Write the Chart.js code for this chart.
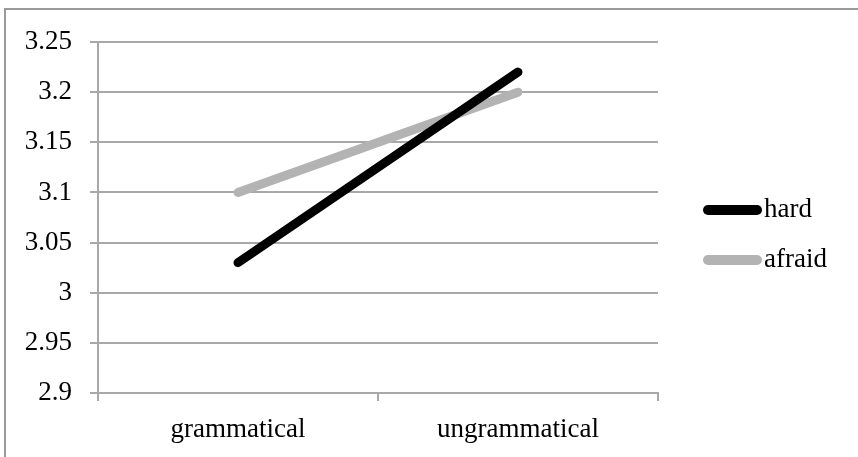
<!DOCTYPE html>
<html>
<head>
<meta charset="utf-8">
<script src="https://cdn.jsdelivr.net/npm/chart.js@4.4.1/dist/chart.umd.min.js"></script>
<style>
  html, body { margin: 0; padding: 0; background: #ffffff; }
  #wrap { width: 858px; height: 457px; position: relative; }
</style>
</head>
<body>
<div id="wrap"><canvas id="c" width="858" height="457"></canvas></div>
<script>
// Categories and series
const categories = ['grammatical', 'ungrammatical'];
const hardValues = [3.03, 3.22];
const afraidValues = [3.1, 3.2];
const seriesNames = ['hard', 'afraid'];
const yMin = 2.9, yMax = 3.25, yStep = 0.05;

const FONT = '"Liberation Serif", "Times New Roman", serif';
const FONT_SIZE = 27;
const GRID = '#a8a8a8';

// Frame around the chart and a legend drawn with line swatches
const frameAndLegend = {
  id: 'frameAndLegend',
  beforeDraw(chart) {
    const ctx = chart.ctx;
    ctx.save();
    ctx.fillStyle = '#ffffff';
    ctx.fillRect(0, 0, chart.width, chart.height);
    ctx.strokeStyle = '#9a9a9a';
    ctx.lineWidth = 2;
    ctx.beginPath();
    ctx.moveTo(5, chart.height);
    ctx.lineTo(5, 9);
    ctx.lineTo(chart.width, 9);
    ctx.stroke();
    ctx.restore();
  },
  afterDraw(chart) {
    const ctx = chart.ctx;
    ctx.save();
    const x0 = 708, x1 = 757, yTop = 210, gap = 50;
    chart.data.datasets.forEach((ds, i) => {
      const y = yTop + i * gap;
      ctx.strokeStyle = ds.borderColor;
      ctx.lineWidth = 10;
      ctx.lineCap = 'round';
      ctx.beginPath();
      ctx.moveTo(x0, y);
      ctx.lineTo(x1, y);
      ctx.stroke();
      ctx.fillStyle = '#000000';
      ctx.font = FONT_SIZE + 'px ' + FONT;
      ctx.textBaseline = 'middle';
      ctx.textAlign = 'left';
      ctx.fillText(ds.label, 764, y);
    });
    ctx.restore();
  }
};

new Chart(document.getElementById('c'), {
  type: 'line',
  data: {
    labels: categories,
    datasets: [
      {
        label: seriesNames[0],
        data: hardValues,
        borderColor: '#000000',
        backgroundColor: '#000000',
        borderWidth: 9,
        borderCapStyle: 'round',
        pointRadius: 0,
        tension: 0
      },
      {
        label: seriesNames[1],
        data: afraidValues,
        borderColor: '#b3b3b3',
        backgroundColor: '#b3b3b3',
        borderWidth: 9,
        borderCapStyle: 'round',
        pointRadius: 0,
        tension: 0
      }
    ]
  },
  options: {
    responsive: false,
    animation: false,
    layout: { padding: { left: 10, top: 42, right: 200, bottom: 0 } },
    plugins: { legend: { display: false }, tooltip: { enabled: false } },
    scales: {
      x: {
        type: 'category',
        offset: true,
        grid: { offset: true, drawOnChartArea: false, drawTicks: true, tickLength: 8, color: GRID, lineWidth: 2 },
        border: { display: true, color: GRID, width: 2 },
        ticks: { color: '#000000', font: { family: FONT, size: FONT_SIZE }, padding: 13, maxRotation: 0 },
        afterFit(scale) { scale.height = 64; }
      },
      y: {
        min: yMin,
        max: yMax,
        grid: { drawTicks: true, tickLength: 8, color: GRID, lineWidth: 2 },
        border: { display: true, color: GRID, width: 2 },
        ticks: {
          stepSize: yStep,
          color: '#000000',
          font: { family: FONT, size: FONT_SIZE },
          padding: 18,
          callback: v => String(parseFloat(v.toFixed(2)))
        },
        afterFit(scale) { scale.width = 88; }
      }
    }
  },
  plugins: [frameAndLegend]
});
</script>
</body>
</html>
